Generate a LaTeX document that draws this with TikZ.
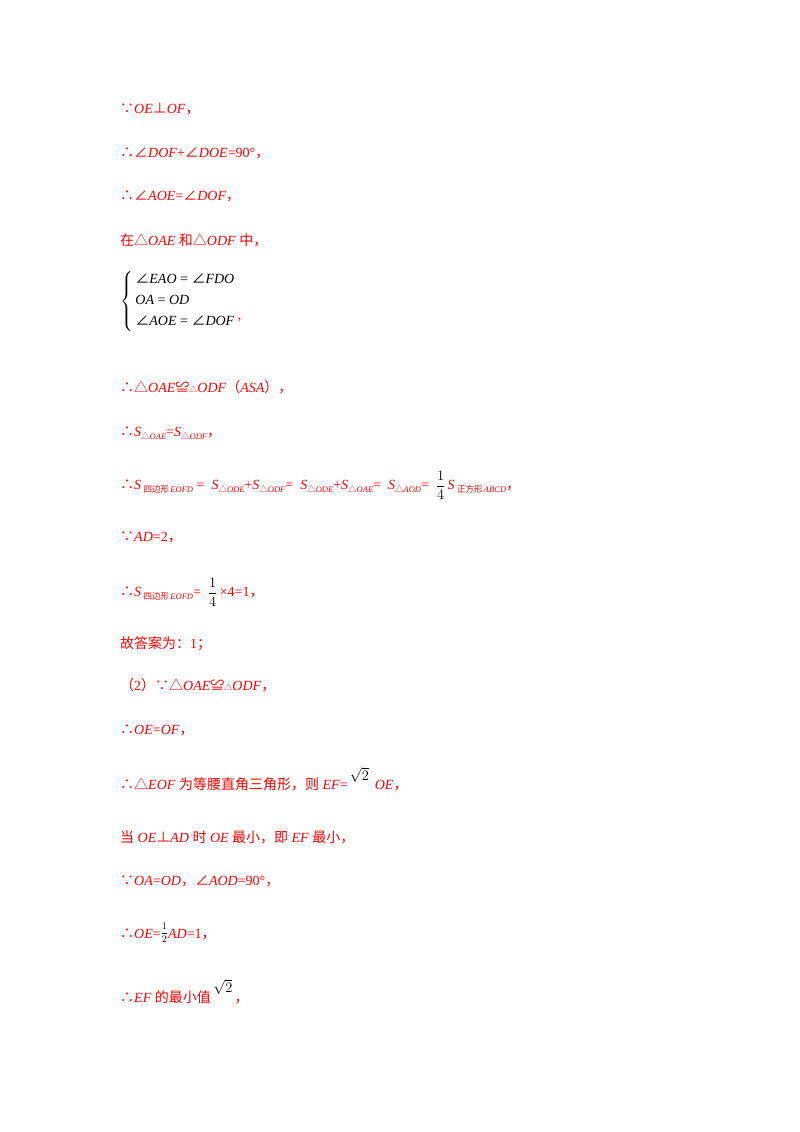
\documentclass[tikz,border=0pt]{standalone}
\usepackage{amsmath}
\usepackage{fontspec}
\setmainfont{Liberation Serif}
\newfontfamily\cj{Noto Sans CJK SC}
\definecolor{rd}{RGB}{255,0,0}
\newcommand{\I}[1]{\textit{#1}}
\newcommand{\C}[1]{{\cj #1}}
\newcommand{\cm}{{\cj ，}}
\newcommand{\sbx}[1]{\raisebox{-3pt}{\fontsize{8.5}{9}\selectfont #1}}
\newcommand{\fr}[2]{\raisebox{-1pt}{\color{black}$\displaystyle\frac{#1}{#2}$}}
\begin{document}
\begin{tikzpicture}[x=1pt,y=-1pt,
  ln/.style={anchor=base west,inner sep=0pt,text=rd,font=\fontsize{14}{16}\selectfont},
  bk/.style={anchor=base west,inner sep=0pt,text=black,font=\fontsize{14}{16}\selectfont}]
\useasboundingbox (0,0) rectangle (800,1132);
\node[ln] (l1) at (120,113) {\C{∵}\I{OE}\C{⊥}\I{OF}\cm};
\node[ln] (l2) at (120,157) {\C{∴∠}\I{DOF}+\C{∠}\I{DOE}=90°\cm};
\node[ln] (l3) at (120,200) {\C{∴∠}\I{AOE}=\C{∠}\I{DOF}\cm};
\node[ln] (l4) at (120,245) {\C{在△}\I{OAE} \C{和△}\I{ODF} \C{中}\cm};
\node[bk] (sys) at (120,305) {$\left\{\begin{array}{@{\,}l@{}}\text{\C{∠}\I{EAO} = \C{∠}\I{FDO}}\\[5pt] \text{\I{OA} = \I{OD}}\\[5pt] \text{\C{∠}\I{AOE} = \C{∠}\I{DOF}}\end{array}\right.$\,\raisebox{-14pt}{\textcolor{rd}{,}}};
\node[ln] (l5) at (120,392) {\C{∴△}\I{OAE}\C{≌}{\fontsize{8}{8}\selectfont\C{△}}\I{ODF}\C{（}\I{ASA}\C{）}\cm};
\node[ln] (l6) at (120,436) {\C{∴}\I{S}\sbx{\C{△}\I{OAE}}=\I{S}\sbx{\C{△}\I{ODF}}\cm};
\node[ln] (l7) at (120,489) {\C{∴}\I{S}\,\sbx{\C{四边形}\,\I{EOFD}} = \ \I{S}\sbx{\C{△}\I{ODE}}+\I{S}\sbx{\C{△}\I{ODF}}= \ \I{S}\sbx{\C{△}\I{ODE}}+\I{S}\sbx{\C{△}\I{OAE}}= \ \I{S}\sbx{\C{△}\I{AOD}}= \ \fr14\,\I{S}\,\sbx{\C{正方形}\,\I{ABCD}}\cm};
\node[ln] (l8) at (120,541) {\C{∵}\I{AD}=2\cm};
\node[ln] (l9) at (120,596) {\C{∴}\I{S}\,\sbx{\C{四边形}\,\I{EOFD}}= \ \fr14\,×4=1\cm};
\node[ln] (l10) at (120,648) {\C{故答案为：}1\C{；}};
\node[ln] (l11) at (120,690) {\C{（}2\C{）∵△}\I{OAE}\C{≌}{\fontsize{8}{8}\selectfont\C{△}}\I{ODF}\cm};
\node[ln] (l12) at (120,734) {\C{∴}\I{OE}=\I{OF}\cm};
\node[ln] (l13) at (120,789) {\C{∴△}\I{EOF} \C{为等腰直角三角形，则} \I{EF}=\,\raisebox{9pt}{\color{black}$\sqrt2$}\, \I{OE}\cm};
\node[ln] (l14) at (120,842) {\C{当} \I{OE}\C{⊥}\I{AD} \C{时} \I{OE} \C{最小，即} \I{EF} \C{最小}\cm};
\node[ln] (l15) at (120,885) {\C{∵}\I{OA}=\I{OD}\cm\C{∠}\I{AOD}=90°\cm};
\node[ln] (l16) at (120,938) {\C{∴}\I{OE}=\raisebox{2pt}{\color{black}{\fontsize{10}{11}\selectfont$\displaystyle\frac12$}}\I{AD}=1\cm};
\node[ln] (l17) at (120,1002) {\C{∴}\I{EF} \C{的最小值}\,\raisebox{10pt}{\color{black}$\sqrt2$}\,\cm};
\end{tikzpicture}
\end{document}
